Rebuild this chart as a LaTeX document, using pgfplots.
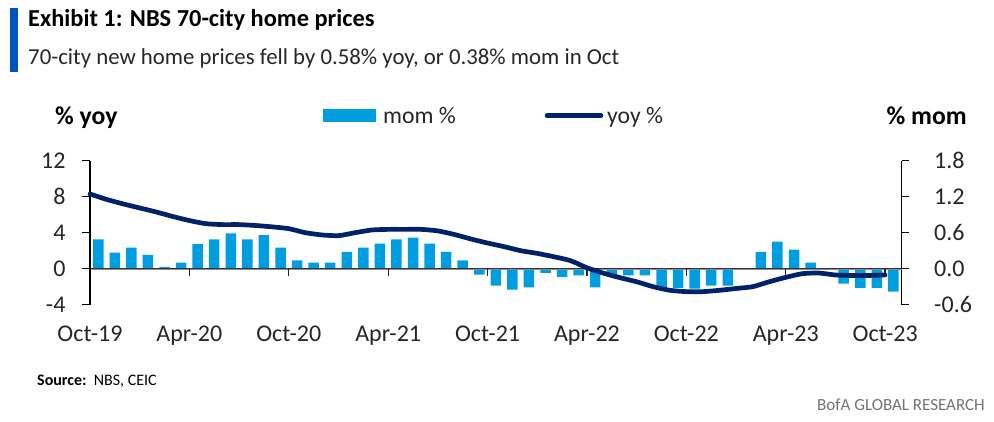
\documentclass[border=0pt]{standalone}
\usepackage{fontspec}
\setmainfont{Carlito}
\usepackage{pgfplots}
\usepackage{pgfplotstable}
\pgfplotsset{compat=1.18}
\definecolor{barblue}{RGB}{0,158,224}
\definecolor{navy}{RGB}{1,33,105}
\definecolor{titleblue}{RGB}{0,83,194}

\pgfplotstableread{
x m
0.5 0.49
1.5 0.27
2.5 0.35
3.5 0.23
4.5 0.03
5.5 0.10
6.5 0.41
7.5 0.49
8.5 0.59
9.5 0.49
10.5 0.56
11.5 0.35
12.5 0.14
13.5 0.10
14.5 0.10
15.5 0.28
16.5 0.35
17.5 0.42
18.5 0.49
19.5 0.52
20.5 0.42
21.5 0.28
22.5 0.14
23.5 -0.10
24.5 -0.28
25.5 -0.35
26.5 -0.31
27.5 -0.07
28.5 -0.14
29.5 -0.11
30.5 -0.31
31.5 -0.11
32.5 -0.11
33.5 -0.11
34.5 -0.32
35.5 -0.32
36.5 -0.33
37.5 -0.28
38.5 -0.28
39.5 -0.01
40.5 0.28
41.5 0.45
42.5 0.32
43.5 0.10
44.5 -0.01
45.5 -0.25
46.5 -0.32
47.5 -0.32
48.5 -0.38
}\momdata

\pgfplotstableread{
x y
0 8.3
1 7.7
2 7.2
3 6.75
4 6.3
5 5.8
6 5.35
7 5.0
8 4.9
9 4.9
10 4.8
11 4.65
12 4.45
13 4.0
14 3.75
15 3.67
16 4.0
17 4.3
18 4.37
19 4.37
20 4.37
21 4.2
22 3.8
23 3.3
24 2.85
25 2.45
26 2.0
27 1.7
28 1.33
29 0.9
30 0.1
31 -0.5
32 -1.0
33 -1.45
34 -2.0
35 -2.4
36 -2.55
37 -2.55
38 -2.4
39 -2.2
40 -2.0
41 -1.45
42 -0.96
43 -0.55
44 -0.48
45 -0.7
46 -0.75
47 -0.75
48 -0.7
}\yoydata

\begin{document}
\begin{tikzpicture}
\useasboundingbox (0pt,0pt) rectangle (994pt,421pt);

\begin{scope}[x=1pt,y=1pt]
% header
\fill[titleblue] (10,413) rectangle (18,349);
\node[anchor=base west, inner sep=0pt, font=\bfseries\fontsize{24.4}{26}\selectfont] at (28,394) {Exhibit 1: NBS 70-city home prices};
\node[anchor=base west, inner sep=0pt, font=\fontsize{22.8}{24}\selectfont, text=black!85] at (28,356) {70-city new home prices fell by 0.58\% yoy, or 0.38\% mom in Oct};

% axis titles and legend
\node[anchor=base west, inner sep=0pt, font=\bfseries\fontsize{25.7}{27}\selectfont] at (55,296) {\% yoy};
\node[anchor=base east, inner sep=0pt, font=\bfseries\fontsize{25.7}{27}\selectfont] at (967,296) {\% mom};
\fill[barblue] (323,312) rectangle (376,299);
\node[anchor=base west, inner sep=0pt, font=\fontsize{23.7}{25}\selectfont, text=black!85] at (383,297) {mom \%};
\draw[navy, line width=4.5pt, line cap=round] (547,305.3) -- (601,305.3);
\node[anchor=base west, inner sep=0pt, font=\fontsize{23.7}{25}\selectfont, text=black!85] at (607,297) {yoy \%};

% footer
\node[anchor=base west, inner sep=0pt, font=\fontsize{16}{18}\selectfont] at (37,36) {\textbf{Source:}\ \ NBS, CEIC};
\node[anchor=base east, inner sep=0pt, font=\fontsize{17}{19}\selectfont, text=black!55] at (985,11) {BofA GLOBAL RESEARCH};
\end{scope}

% bars (right axis)
\begin{axis}[
  at={(90pt,116.3pt)}, anchor=south west, scale only axis,
  width=811.7pt, height=144pt,
  xmin=0, xmax=49, ymin=-0.6, ymax=1.8,
  axis y line*=right, axis x line=none,
  ytick={-0.6,0,0.6,1.2,1.8},
  yticklabels={-0.6,0.0,0.6,1.2,1.8},
  yticklabel style={font=\fontsize{24}{24}\selectfont, text=black!85, anchor=west, xshift=22pt},
  y axis line style={line width=1.3pt, -},
  ytick style={line width=1.3pt, black},
  tick align=outside, major tick length=7pt,
  clip=false,
]
\addplot[ybar, bar width=10.5pt, bar shift=0pt, fill=barblue, draw=none] table[x=x,y=m] {\momdata};
\draw[black!45, line width=2pt] (axis cs:0,0) -- (axis cs:49,0);
\draw[black!80, line width=0.8pt] (axis cs:0,0) -- (axis cs:49,0);
\pgfplotsinvokeforeach{0,6,12,18,24,30,36,42,48}{
  \draw[black!85, line width=1.3pt] (axis cs:#1,0) -- ([yshift=-7.5pt]axis cs:#1,0);
}
\end{axis}

% line (left axis)
\begin{axis}[
  at={(90pt,116.3pt)}, anchor=south west, scale only axis,
  width=811.7pt, height=144pt,
  xmin=0, xmax=49, ymin=-4, ymax=12,
  axis y line*=left, axis x line*=bottom,
  x axis line style={draw=none},
  xtick={0,6,12,18,24,30,36,42,48},
  xticklabels={Oct-19,Apr-20,Oct-20,Apr-21,Oct-21,Apr-22,Oct-22,Apr-23,Oct-23},
  xticklabel style={font=\fontsize{24}{24}\selectfont, text=black!85, anchor=base, yshift=-29pt},
  xtick style={draw=none},
  ytick={-4,0,4,8,12},
  yticklabels={-4,0,4,8,12},
  yticklabel style={font=\fontsize{24}{24}\selectfont, text=black!85, anchor=east, xshift=-13pt},
  y axis line style={line width=1.3pt, -},
  ytick style={line width=1.3pt, black},
  tick align=outside, major tick length=8pt,
  clip=false,
]
\addplot[navy, line width=4.7pt, line cap=round, line join=round, smooth, tension=0.35] table[x=x,y=y] {\yoydata};
\end{axis}
\end{tikzpicture}
\end{document}
